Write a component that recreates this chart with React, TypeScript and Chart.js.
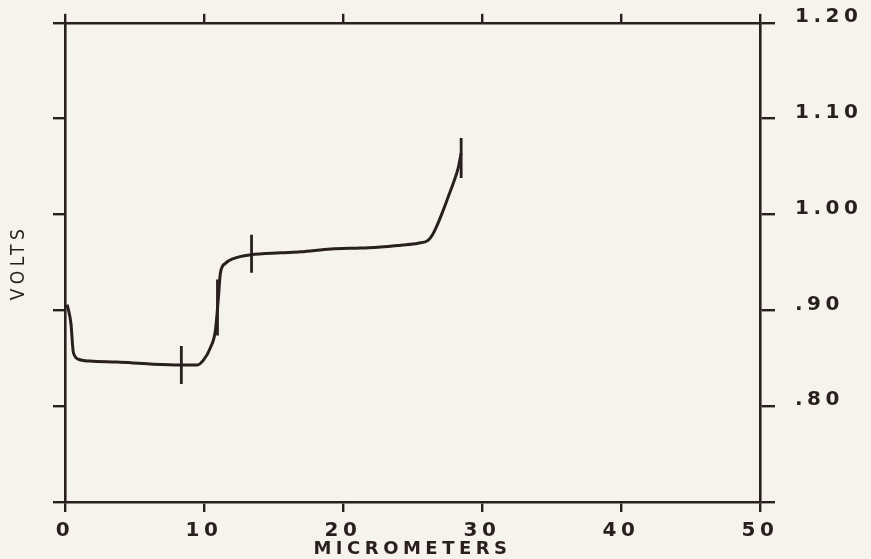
import React, { useEffect, useRef } from "react";
import { Chart, registerables } from "chart.js";

Chart.register(...registerables);

// Curve: position (micrometers) vs potential (volts)
const curveX = [0.15, 0.22, 0.43, 0.58, 0.72, 0.94, 1.8, 3.75, 6.13, 8.3, 9.52, 9.96, 10.46, 10.82, 11.04, 11.18, 11.54, 12.12, 13.35, 15.51, 16.96, 19.12, 21.28, 22.73, 24.17, 25.4, 26.12, 26.48, 26.84, 27.2, 27.56, 27.92, 28.28, 28.5];
const curveV = [0.906, 0.902, 0.886, 0.858, 0.852, 0.849, 0.847, 0.846, 0.844, 0.843, 0.843, 0.848, 0.861, 0.879, 0.914, 0.939, 0.949, 0.954, 0.958, 0.96, 0.961, 0.964, 0.965, 0.966, 0.968, 0.97, 0.973, 0.98, 0.991, 1.004, 1.018, 1.032, 1.048, 1.064];

// Vertical marker bars on the curve
const markerX = [8.37, 10.97, 13.42, 28.5];
const markerV = [0.843, 0.903, 0.959, 1.059];
const markerHalfLen = [19, 28, 19, 20];

const xTickLabels = ["0", "10", "20", "30", "40", "50"];
const yTickLabels = ["", ".80", ".90", "1.00", "1.10", "1.20"];

const INK = "#2a1f1f";
const BG = "#f6f3ec";
const LABEL_FONT = { family: "'DejaVu Sans', sans-serif", size: 20, weight: "bold" as const };
const TITLE_FONT = { family: "'DejaVu Sans', sans-serif", size: 18, weight: "bold" as const, lineHeight: 1 };

const spacingPlugin = {
  id: "letterSpacing",
  beforeUpdate(chart: any) {
    chart.ctx.letterSpacing = "4.5px";
  },
  beforeDraw(chart: any) {
    chart.ctx.letterSpacing = "4.5px";
  },
};

const noPad = (s: any) => {
  s.paddingTop = 0;
  s.paddingBottom = 0;
  s.paddingLeft = 0;
  s.paddingRight = 0;
};

export default function App() {
  const ref = useRef<HTMLCanvasElement | null>(null);
  useEffect(() => {
    if (!ref.current) return;
    const chart = new Chart(ref.current, {
      type: "line",
      data: {
        datasets: [
          {
            label: "curve",
            data: curveX.map((x, i) => ({ x, y: curveV[i] })),
            borderColor: INK,
            borderWidth: 3,
            pointRadius: 0,
            cubicInterpolationMode: "monotone",
            xAxisID: "x",
            yAxisID: "y",
          },
          {
            label: "markers",
            data: markerX.map((x, i) => ({ x, y: markerV[i] })),
            showLine: false,
            pointStyle: "line",
            rotation: 90,
            pointRadius: markerHalfLen,
            pointBorderColor: INK,
            pointBorderWidth: 2.8,
            borderColor: INK,
            xAxisID: "x",
            yAxisID: "y",
          },
        ],
      },
      options: {
        animation: false,
        responsive: true,
        maintainAspectRatio: false,
        layout: { padding: 0 },
        plugins: { legend: { display: false }, tooltip: { enabled: false } },
        scales: {
          x: {
            type: "linear",
            position: "bottom",
            min: 0,
            max: 50,
            ticks: {
              stepSize: 10,
              color: INK,
              font: LABEL_FONT,
              padding: 7,
              maxRotation: 0,
              callback: (_v: any, i: number) => xTickLabels[i],
            },
            grid: { drawOnChartArea: false, color: INK, lineWidth: 2.4, tickLength: 10 },
            border: { display: true, color: INK, width: 2.6 },
            title: { display: true, text: "MICROMETERS", color: INK, font: TITLE_FONT, padding: { top: 0, bottom: 1 } },
            afterFit: (s: any) => { s.height = 57; noPad(s); },
          },
          x2: {
            type: "linear",
            position: "top",
            min: 0,
            max: 50,
            ticks: { stepSize: 10, display: false },
            grid: { drawOnChartArea: false, color: INK, lineWidth: 2.4, tickLength: 9 },
            border: { display: true, color: INK, width: 2.6 },
            afterFit: (s: any) => { s.height = 22; noPad(s); },
          },
          y: {
            type: "linear",
            position: "left",
            min: 0.7,
            max: 1.2,
            ticks: { stepSize: 0.1, display: false },
            grid: { drawOnChartArea: false, color: INK, lineWidth: 2.4, tickLength: 12 },
            border: { display: true, color: INK, width: 2.6 },
            title: {
              display: true,
              text: "VOLTS",
              color: INK,
              font: { family: "'DejaVu Sans Condensed', 'DejaVu Sans', sans-serif", size: 19, lineHeight: 1.2 },
              padding: { top: 8, bottom: 0 },
            },
            afterFit: (s: any) => { s.width = 65; noPad(s); },
          },
          y2: {
            type: "linear",
            position: "right",
            min: 0.7,
            max: 1.2,
            ticks: {
              stepSize: 0.1,
              color: INK,
              font: LABEL_FONT,
              padding: 20,
              labelOffset: -6,
              callback: (_v: any, i: number) => yTickLabels[i],
            },
            grid: { drawOnChartArea: false, color: INK, lineWidth: 2.4, tickLength: 15 },
            border: { display: true, color: INK, width: 2.6 },
            afterFit: (s: any) => { s.width = 111; noPad(s); },
          },
        },
      },
      plugins: [spacingPlugin],
    } as any);
    return () => chart.destroy();
  }, []);

  return (
    <div style={{ position: "fixed", left: 0, top: 0, width: 871, height: 559, background: BG }}>
      <canvas ref={ref} />
    </div>
  );
}
